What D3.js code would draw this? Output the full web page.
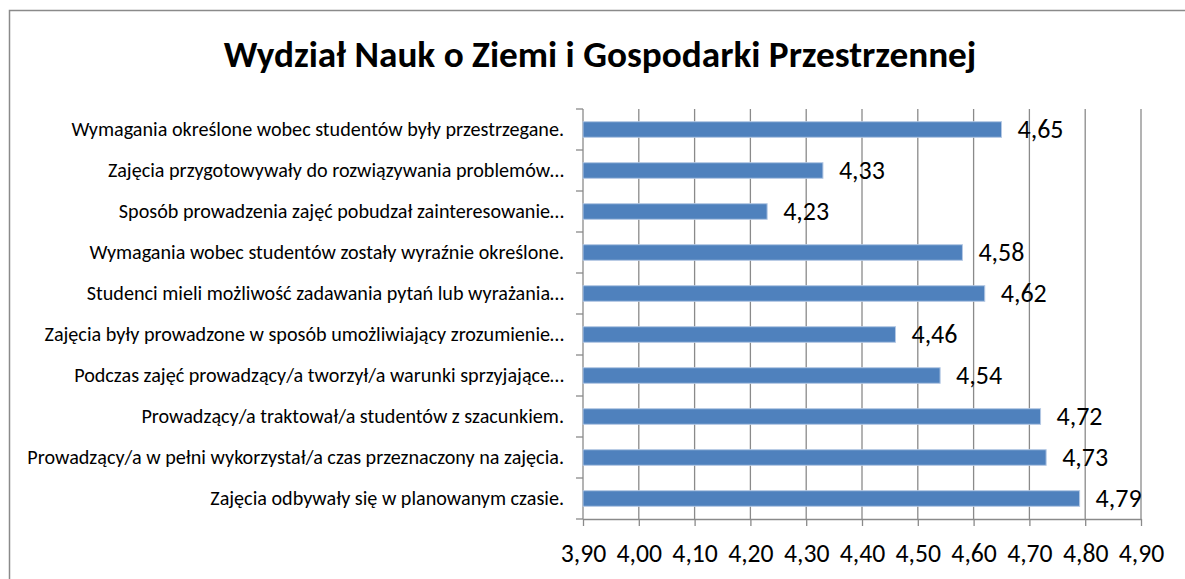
<!DOCTYPE html>
<html><head><meta charset="utf-8">
<script src="https://cdn.jsdelivr.net/npm/d3@7"></script>
<style>html,body{margin:0;padding:0;background:#fff;overflow:hidden}</style>
</head><body>
<svg id="c" width="1185" height="579"></svg>
<script>
const title = "Wydział Nauk o Ziemi i Gospodarki Przestrzennej";
const categories = [
  "Wymagania określone wobec studentów były przestrzegane.",
  "Zajęcia przygotowywały do rozwiązywania problemów…",
  "Sposób prowadzenia zajęć pobudzał zainteresowanie…",
  "Wymagania wobec studentów zostały wyraźnie określone.",
  "Studenci mieli możliwość zadawania pytań lub wyrażania…",
  "Zajęcia były prowadzone w sposób umożliwiający zrozumienie…",
  "Podczas zajęć prowadzący/a tworzył/a warunki sprzyjające…",
  "Prowadzący/a traktował/a studentów z szacunkiem.",
  "Prowadzący/a w pełni wykorzystał/a czas przeznaczony na zajęcia.",
  "Zajęcia odbywały się w planowanym czasie."
];
const values = [4.65, 4.33, 4.23, 4.58, 4.62, 4.46, 4.54, 4.72, 4.73, 4.79];
const tickValues = [3.9, 4.0, 4.1, 4.2, 4.3, 4.4, 4.5, 4.6, 4.7, 4.8, 4.9];
const fmt = v => v.toFixed(2).replace(".", ",");

const FONT = "Carlito, Calibri, Lato, 'Open Sans', sans-serif";
const svg = d3.select("#c");

// frame
svg.append("rect").attr("x", 9.5).attr("y", 10.5).attr("width", 1200).attr("height", 600)
  .attr("fill", "none").attr("stroke", "#8a8a8a").attr("stroke-width", 1.5);

const x = d3.scaleLinear().domain([3.9, 4.9]).range([583, 1141]);
const y = d3.scaleBand().domain(categories).range([109, 519]).paddingInner(0.62).paddingOuter(0.31);
const band = d3.scaleBand().domain(categories).range([109, 519]);

function fit(sel, target) {
  // scale font-size so the text width matches target
  const w = sel.node().getComputedTextLength();
  const fs = parseFloat(sel.attr("font-size"));
  return fs * target / w;
}

// title
const t = svg.append("text").attr("x", 600).attr("y", 67).attr("text-anchor", "middle")
  .attr("font-family", FONT).attr("font-weight", "bold").attr("font-size", 30).attr("fill", "#000").text(title);
t.attr("font-size", fit(t, 753));

// gridlines
const g = svg.append("g");
g.selectAll("line.grid").data(tickValues.slice(1)).join("line").attr("class", "grid")
  .attr("x1", d => x(d)).attr("x2", d => x(d)).attr("y1", 109).attr("y2", 519)
  .attr("stroke", "#8a8a8a").attr("stroke-width", 1.3);

// x axis
const xAxis = d3.axisBottom(x).tickValues(tickValues).tickSize(7).tickSizeOuter(0).tickFormat(fmt);
const xg = svg.append("g").attr("transform", "translate(0,519)").call(xAxis);
xg.select(".domain").attr("stroke", "#8a8a8a").attr("stroke-width", 1.3);
xg.selectAll(".tick line").attr("stroke", "#8a8a8a").attr("stroke-width", 1.3);
const xt = xg.selectAll(".tick text").attr("font-family", FONT).attr("font-size", 24).attr("fill", "#000")
  .attr("dy", null).attr("y", 43);
const xfs = fit(d3.select(xt.nodes()[0]), 45.5);
xt.attr("font-size", xfs);

// y axis line and ticks at band boundaries
const yg = svg.append("g");
yg.append("line").attr("x1", 583).attr("x2", 583).attr("y1", 109).attr("y2", 519)
  .attr("stroke", "#8a8a8a").attr("stroke-width", 1.3);
const bounds = categories.map(c => band(c)).concat([519]);
yg.selectAll("line.yt").data(bounds).join("line").attr("class", "yt")
  .attr("x1", 576).attr("x2", 583).attr("y1", d => d).attr("y2", d => d)
  .attr("stroke", "#8a8a8a").attr("stroke-width", 1.3);

// category labels
const cl = svg.append("g").selectAll("text").data(categories).join("text")
  .attr("x", 564).attr("y", d => band(d) + band.bandwidth() / 2 + 6)
  .attr("text-anchor", "end").attr("font-family", FONT).attr("font-size", 18).attr("fill", "#000")
  .text(d => d);
const longest = cl.filter((d, i) => i === 8);
cl.attr("font-size", fit(longest, 537));

// bars
svg.append("g").selectAll("rect").data(values).join("rect")
  .attr("x", x(3.9)).attr("y", (d, i) => y(categories[i]))
  .attr("width", d => x(d) - x(3.9)).attr("height", y.bandwidth())
  .attr("fill", "#4F81BD").attr("stroke", "#b4c8e4").attr("stroke-width", 1);

// data labels
const dl = svg.append("g").selectAll("text").data(values).join("text")
  .attr("x", d => x(d) + 16)
  .attr("y", (d, i) => band(categories[i]) + band.bandwidth() / 2 + 8.5)
  .attr("font-family", FONT).attr("font-size", 24).attr("fill", "#000").text(fmt);
dl.attr("font-size", fit(d3.select(dl.nodes()[9]), 46));
</script>
</body></html>
